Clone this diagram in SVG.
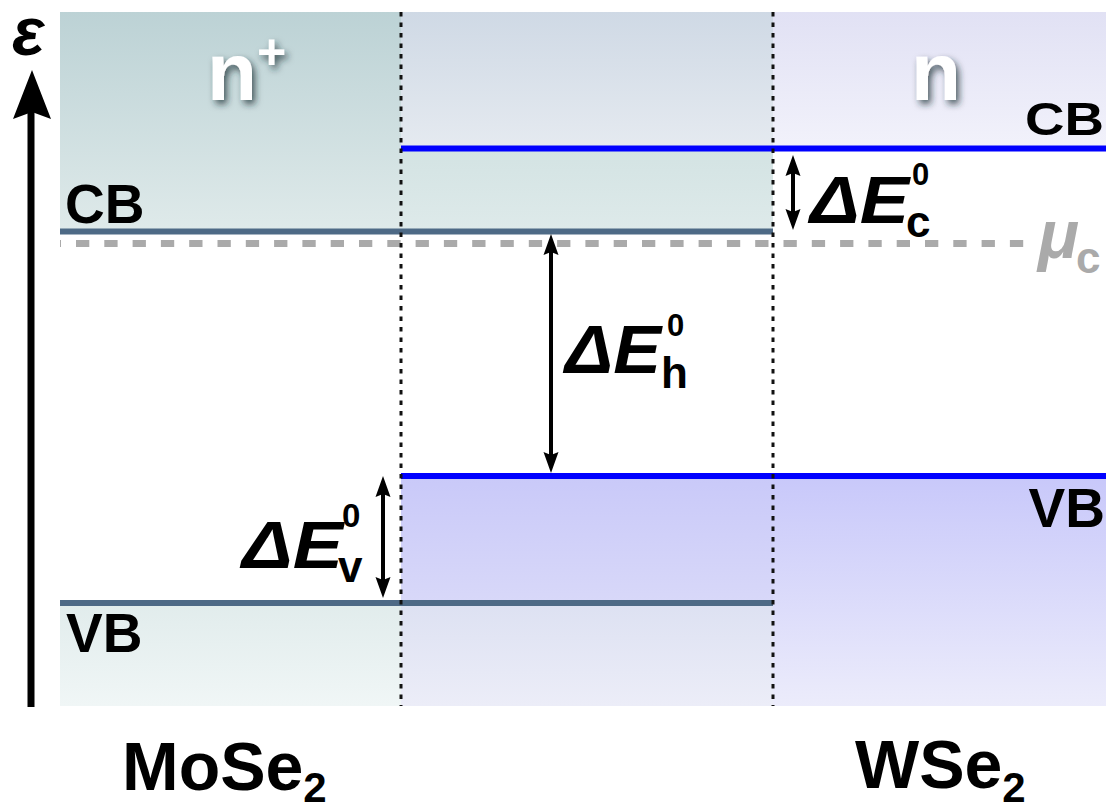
<svg xmlns="http://www.w3.org/2000/svg" width="1113" height="809" viewBox="0 0 1113 809">
<defs>
<linearGradient id="gTealTop" x1="0" y1="0" x2="0" y2="1"><stop offset="0" stop-color="#bcd2d5"/><stop offset="1" stop-color="#dfeaea"/></linearGradient>
<linearGradient id="gMidTop" x1="0" y1="0" x2="0" y2="1"><stop offset="0" stop-color="#cfd9e5"/><stop offset="1" stop-color="#e5eaf0"/></linearGradient>
<linearGradient id="gMidTeal" x1="0" y1="0" x2="0" y2="1"><stop offset="0" stop-color="#d3e3e3"/><stop offset="1" stop-color="#deeaea"/></linearGradient>
<linearGradient id="gRightTop" x1="0" y1="0" x2="0" y2="1"><stop offset="0" stop-color="#e1e1f4"/><stop offset="1" stop-color="#f2f2fb"/></linearGradient>
<linearGradient id="gMidVB" x1="0" y1="0" x2="0" y2="1"><stop offset="0" stop-color="#c9c9f9"/><stop offset="1" stop-color="#d8d8f9"/></linearGradient>
<linearGradient id="gRightVB" x1="0" y1="0" x2="0" y2="1"><stop offset="0" stop-color="#c8c8fa"/><stop offset="1" stop-color="#ececfb"/></linearGradient>
<linearGradient id="gMidBot" x1="0" y1="0" x2="0" y2="1"><stop offset="0" stop-color="#dde1f2"/><stop offset="1" stop-color="#ecedf8"/></linearGradient>
<linearGradient id="gLeftBot" x1="0" y1="0" x2="0" y2="1"><stop offset="0" stop-color="#e1ecec"/><stop offset="1" stop-color="#f0f6f6"/></linearGradient>
<filter id="shadow" x="-30%" y="-30%" width="160%" height="160%"><feDropShadow dx="3" dy="4" stdDeviation="3.5" flood-color="#1f2d33" flood-opacity="0.75"/></filter>
<style>
.lbl{font-family:"Liberation Sans",Arial,sans-serif;font-weight:bold;fill:#000}
.it{font-style:italic}
.gray{fill:#aaaaaa}
.doping{font-family:"Liberation Sans",Arial,sans-serif;font-weight:bold;fill:#ffffff;filter:url(#shadow)}
.mo{stroke:#4e6a86;stroke-width:6;fill:none}
.w{stroke:#0000ff;stroke-width:6;fill:none}
.div{stroke:#111;stroke-width:3;stroke-dasharray:4.5 6;fill:none}
.mu{stroke:#aaaaaa;stroke-width:7;stroke-dasharray:13.3 15;stroke-dashoffset:12.3;fill:none}
.shaft{stroke:#000;stroke-width:4;fill:none}
.head{fill:#000}
</style>
</defs>
<g id="bands">
<rect x="60" y="12" width="341" height="220" fill="url(#gTealTop)"/>
<rect x="401" y="12" width="372" height="136" fill="url(#gMidTop)"/>
<rect x="401" y="148" width="372" height="84" fill="url(#gMidTeal)"/>
<rect x="773" y="12" width="333" height="136" fill="url(#gRightTop)"/>
<rect x="401" y="476" width="372" height="127" fill="url(#gMidVB)"/>
<rect x="773" y="476" width="333" height="230" fill="url(#gRightVB)"/>
<rect x="401" y="603" width="372" height="103" fill="url(#gMidBot)"/>
<rect x="60" y="603" width="341" height="103" fill="url(#gLeftBot)"/>
</g>
<g id="band-edges">
<line class="mo" x1="60" y1="231.5" x2="773" y2="231.5"/>
<line class="mo" x1="60" y1="603" x2="773" y2="603"/>
<line class="w" x1="401" y1="148.5" x2="1106" y2="148.5"/>
<line class="w" x1="401" y1="476" x2="1106" y2="476"/>
<line class="mu" x1="60" y1="243.5" x2="1027" y2="243.5"/>
<line class="div" x1="401" y1="12" x2="401" y2="706"/>
<line class="div" x1="773" y1="12" x2="773" y2="706"/>
</g>
<g id="axis">
<line x1="31" y1="707" x2="31" y2="112" stroke="#000" stroke-width="7"/>
<path d="M32,70 L13,119 L32,112 L51,119 Z" fill="#000"/>
<text class="lbl it" x="12" y="55" font-size="68">ε</text>
</g>
<g id="connectors">
<line class="shaft" x1="793" y1="172" x2="793" y2="213"/>
<path class="head" d="M793,155 L785.5,176 L793,173 L800.5,176 Z"/>
<path class="head" d="M793,230 L785.5,209 L793,212 L800.5,209 Z"/>
<line class="shaft" x1="551" y1="252" x2="551" y2="456"/>
<path class="head" d="M551,234 L543.5,255 L551,252 L558.5,255 Z"/>
<path class="head" d="M551,473 L543.5,452 L551,455 L558.5,452 Z"/>
<line class="shaft" x1="383" y1="493" x2="383" y2="580"/>
<path class="head" d="M383,476 L375.5,497 L383,494 L390.5,497 Z"/>
<path class="head" d="M383,598 L375.5,577 L383,580 L390.5,577 Z"/>
</g>
<g id="node-nplus">
<text class="doping" x="207" y="100" font-size="82">n</text>
<text class="doping" x="257" y="69" font-size="50">+</text>
</g>
<g id="node-n">
<text class="doping" x="911" y="100" font-size="82">n</text>
</g>
<g id="node-cb-left"><text class="lbl" x="65" y="223" font-size="55">CB</text></g>
<g id="node-vb-left"><text class="lbl" x="66" y="652" font-size="55">VB</text></g>
<g id="node-cb-right"><text class="lbl" x="1025" y="135" font-size="46" textLength="79" lengthAdjust="spacingAndGlyphs">CB</text></g>
<g id="node-vb-right"><text class="lbl" x="1105" y="527" font-size="55" text-anchor="end">VB</text></g>
<g id="node-dEc">
<text class="lbl it" x="810" y="223" font-size="67" textLength="99" lengthAdjust="spacingAndGlyphs">ΔE</text>
<text class="lbl" x="912" y="185" font-size="31">0</text>
<text class="lbl" x="906" y="237" font-size="44">c</text>
</g>
<g id="node-mu">
<text class="lbl it gray" x="1038" y="258" font-size="68">μ</text>
<text class="lbl gray" x="1076" y="273" font-size="44">c</text>
</g>
<g id="node-dEh">
<text class="lbl it" x="565" y="373" font-size="69" textLength="96" lengthAdjust="spacingAndGlyphs">ΔE</text>
<text class="lbl" x="667" y="336" font-size="31">0</text>
<text class="lbl" x="661" y="388" font-size="44">h</text>
</g>
<g id="node-dEv">
<text class="lbl it" x="242" y="568" font-size="67" textLength="101" lengthAdjust="spacingAndGlyphs">ΔE</text>
<text class="lbl" x="342" y="527" font-size="33">0</text>
<text class="lbl" x="338" y="582" font-size="44">v</text>
</g>
<g id="node-mose2">
<text class="lbl" x="122" y="790" font-size="68">MoSe<tspan font-size="42" dy="12">2</tspan></text>
</g>
<g id="node-wse2">
<text class="lbl" x="855" y="788" font-size="68">WSe<tspan font-size="42" dy="14">2</tspan></text>
</g>
</svg>
